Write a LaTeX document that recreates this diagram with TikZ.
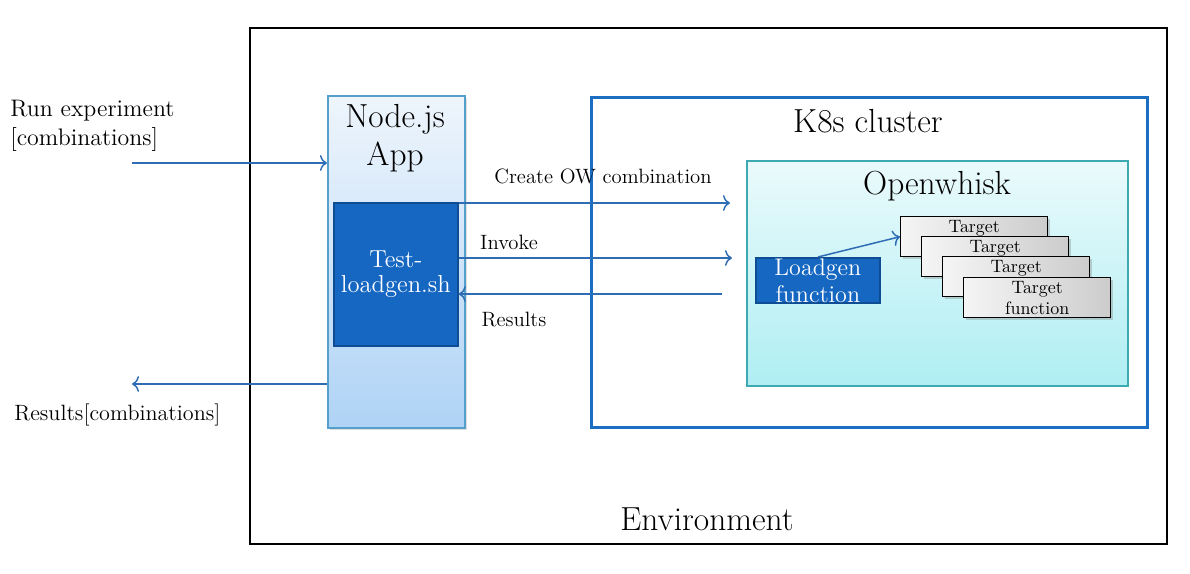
\documentclass[tikz,border=0pt]{standalone}
\usepackage{tikz}
\usepackage{xcolor}
\usetikzlibrary{positioning,shadows,arrows.meta}

\definecolor{flowblue}{HTML}{2E6DB4}
\definecolor{apptop}{HTML}{EEF5FC}
\definecolor{appbottom}{HTML}{AFD3F6}
\definecolor{appedge}{HTML}{559FCB}
\definecolor{scriptblue}{HTML}{1667C2}
\definecolor{scriptedge}{HTML}{0E4C94}
\definecolor{clusteredge}{HTML}{1B6EC2}
\definecolor{owtop}{HTML}{EAFAFC}
\definecolor{owbottom}{HTML}{AFEEF3}
\definecolor{owedge}{HTML}{3CAAB0}

\begin{document}
\begin{tikzpicture}[x=0.02cm,y=-0.02cm,
        every node/.style={inner sep=0pt},
        flow/.style={draw=flowblue,line width=0.85pt,-{To[length=4pt,width=9pt]}},
        envbox/.style={draw=black,line width=1.4pt,anchor=north west},
        appbox/.style={draw=appedge,line width=1pt,top color=apptop,bottom color=appbottom,anchor=north west,
            drop shadow={shadow xshift=1pt,shadow yshift=-1pt,opacity=0.25}},
        scriptbox/.style={draw=scriptedge,line width=1pt,fill=scriptblue,text=white,align=center,anchor=north west},
        clusterbox/.style={draw=clusteredge,line width=1.7pt,anchor=north west},
        owbox/.style={draw=owedge,line width=1pt,top color=owtop,bottom color=owbottom,anchor=north west},
        targetbox/.style={draw=black,line width=0.8pt,left color=gray!8,right color=gray!40,
            drop shadow={shadow xshift=1.5pt,shadow yshift=-1.5pt,opacity=0.35},
            minimum width=2.94cm,minimum height=0.8cm,align=center,anchor=north west,
            font=\fontsize{10.2}{12}\selectfont},
        biglabel/.style={font=\fontsize{19}{22}\selectfont,align=center},
        smalllabel/.style={font=\fontsize{11.8}{16.4}\selectfont,align=left}]
        \useasboundingbox (0,0) rectangle (1190,574);
        % outer environment
        \node[envbox,minimum width=18.34cm,minimum height=10.32cm] (env) at (249,27) {};
        \node[biglabel] (envlabel) at (707,519) {Environment};
        % Node.js app with script
        \node[appbox,minimum width=2.74cm,minimum height=6.64cm] (app) at (327,95) {};
        \node[biglabel] (applabel) at (395,138) {Node.js\\App};
        \node[scriptbox,minimum width=2.48cm,minimum height=2.86cm,
            font=\fontsize{14}{14.5}\selectfont] (test) at (333,202) {Test-\\loadgen.sh};
        % cluster
        \node[clusterbox,minimum width=11.12cm,minimum height=6.6cm] (k8s) at (590,96) {};
        \node[biglabel] (k8slabel) at (868,121) {K8s cluster};
        \node[owbox,minimum width=7.62cm,minimum height=4.5cm] (ow) at (746,160) {};
        \node[biglabel] (owlabel) at (937,186) {Openwhisk};
        \node[scriptbox,minimum width=2.48cm,minimum height=0.9cm,
            font=\fontsize{13.7}{15.3}\selectfont] (loadgen) at (755,257) {Loadgen\\function};
        \foreach \n/\px/\py in {1/900/216,2/921/236,3/942/256}
            \node[targetbox] (t\n) at (\px,\py) {Target\\\phantom{function}};
        \node[targetbox] (t4) at (963,277) {Target\\function};
        \draw[flow] (loadgen.north) -- (t1.west);
        % outside arrows
        \coordinate (runin) at (132,163);
        \coordinate (resout) at (132,384);
        \node[smalllabel,anchor=west,font=\fontsize{13.6}{16.4}\selectfont] (runlabel) at (10,126) {Run experiment\\{}[combinations]};
        \node[smalllabel,anchor=west,font=\fontsize{12.6}{16}\selectfont] (reslabel) at (14,415) {Results[combinations]};
        \draw[flow] (runin) -- (app.west |- runin);
        \draw[flow] (app.west |- resout) -- (resout);
        % calls into the cluster
        \coordinate (createend) at (730,203);
        \coordinate (invokeend) at (732,258);
        \coordinate (resstart) at (722,294);
        \draw[flow] (test.east |- createend) -- (createend);
        \draw[flow] (test.east |- invokeend) -- (invokeend);
        \draw[flow] (resstart) -- (test.east |- resstart);
        \node[smalllabel] (createlabel) at (603,176) {Create OW combination};
        \node[smalllabel] (invokelabel) at (509,242) {Invoke};
        \node[smalllabel] (resultslabel) at (514,320) {Results};
\end{tikzpicture}
\end{document}
